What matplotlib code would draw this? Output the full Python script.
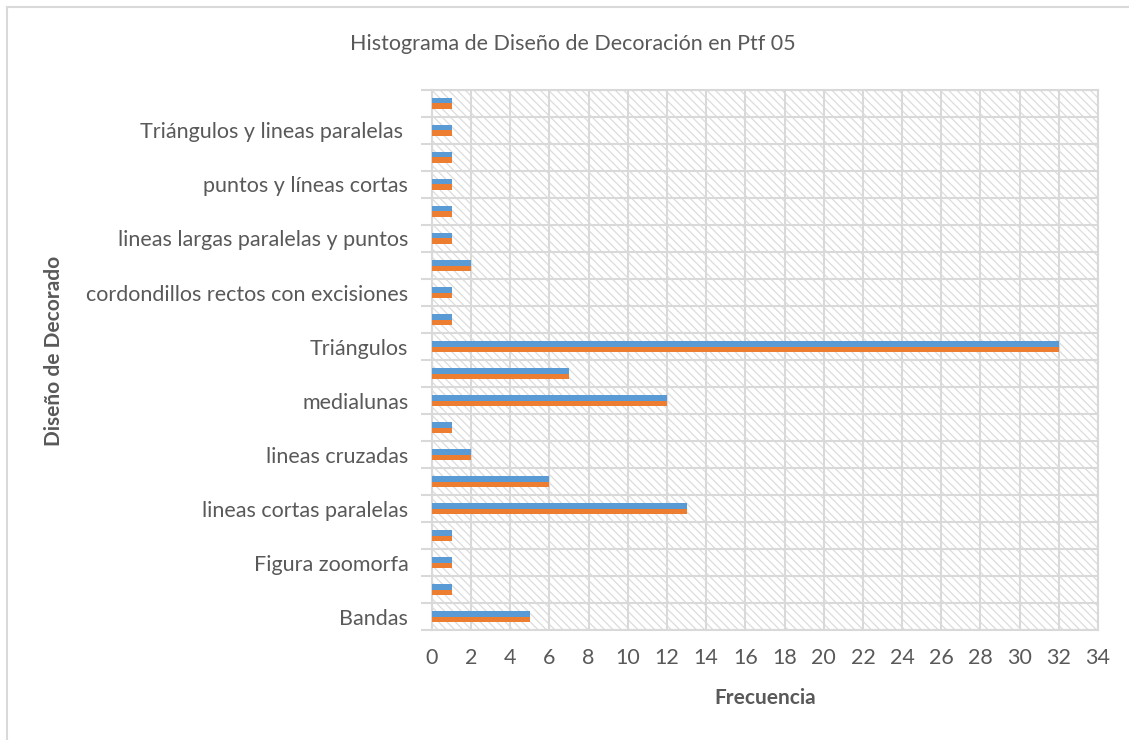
import numpy as np
import matplotlib.pyplot as plt
from matplotlib.patches import Rectangle
from matplotlib.lines import Line2D

plt.rcParams['font.family'] = ['Lato', 'DejaVu Sans']

# valores por diseño, de abajo hacia arriba (ambas series iguales)
frecuencia_a = [5, 1, 1, 1, 13, 6, 2, 1, 12, 7, 32, 1, 1, 2, 1, 1, 1, 1, 1, 1]
frecuencia_b = [5, 1, 1, 1, 13, 6, 2, 1, 12, 7, 32, 1, 1, 2, 1, 1, 1, 1, 1, 1]
# solo se muestra una etiqueta de cada dos
etiquetas = ['Bandas', 'Figura zoomorfa', 'lineas cortas paralelas',
             'lineas cruzadas', 'medialunas', 'Triángulos',
             'cordondillos rectos con excisiones',
             'lineas largas paralelas y puntos', 'puntos y líneas cortas',
             'Triángulos y lineas paralelas ']
xticks = list(range(0, 35, 2))

gris = '#D9D9D9'
texto = '#595959'

fig = plt.figure(figsize=(11.29, 7.4), dpi=100)
ax = fig.add_axes([0.3826, 0.1486, 0.5899, 0.7298])

n = len(frecuencia_a)
y = np.arange(n)
h = 0.22
ax.barh(y + h / 2, frecuencia_a, height=h, color='#5B9BD5', zorder=3)
ax.barh(y - h / 2, frecuencia_b, height=h, color='#ED7D31', zorder=3)

ax.set_xlim(0, 34)
ax.set_ylim(-0.5, n - 0.5)

# fondo rayado
plt.rcParams['hatch.linewidth'] = 0.9
ax.add_patch(Rectangle((0, 0), 1, 1, transform=ax.transAxes, facecolor='white',
                       edgecolor='#DCDCDC', hatch='\\\\\\\\', linewidth=0, zorder=0))

ax.set_xticks(xticks)
ax.set_xticklabels([str(t) for t in xticks], fontsize=15.5, color=texto)
ax.set_yticks(y[::2])
ax.set_yticklabels(etiquetas, fontsize=15.5, color=texto)
ax.set_yticks(np.arange(n + 1) - 0.5, minor=True)
ax.tick_params(axis='y', which='major', length=0, pad=17)
ax.tick_params(axis='y', which='minor', length=8, color=gris, width=1.5)
ax.tick_params(axis='x', length=0, pad=13)

ax.grid(True, axis='x', color=gris, linewidth=1.5, zorder=1)
ax.grid(True, axis='y', which='minor', color=gris, linewidth=1.5, zorder=1)
for s in ax.spines.values():
    s.set_color(gris)
    s.set_linewidth(1.5)

ax.set_xlabel('Frecuencia', fontsize=15, fontweight='bold', color=texto, labelpad=14)
ax.set_ylabel('Diseño de Decorado', fontsize=15, fontweight='bold', color=texto)
ax.yaxis.set_label_coords(-0.553, 0.517)

fig.text(0.5075, 0.9405, 'Histograma de Diseño de Decoración en Ptf 05',
         fontsize=15.5, color=texto, ha='center', va='center')

# borde del área del gráfico
fig.add_artist(Line2D([7 / 1129, 7 / 1129], [0, 1 - 7 / 740], color=gris, lw=1.5))
fig.add_artist(Line2D([7 / 1129, 1], [1 - 7 / 740, 1 - 7 / 740], color=gris, lw=1.5))

fig.savefig('out.png', dpi=100)
